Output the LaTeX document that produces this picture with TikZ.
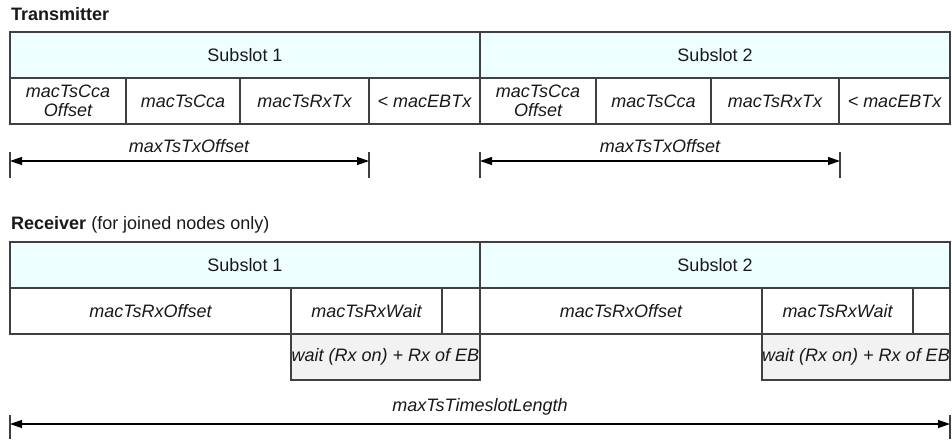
\documentclass[tikz,border=0pt]{standalone}
\usepackage{fontspec}
\setmainfont{Liberation Sans}
\usetikzlibrary{arrows.meta}

\definecolor{subslotfill}{HTML}{EEFFFF}
\definecolor{ebfill}{HTML}{F2F2F2}

\tikzset{
	cell/.style={draw=black!75, line width=1.2pt, minimum height=46pt, inner sep=0pt,
		align=center, text=black!90, font=\fontsize{18}{19}\selectfont\itshape},
	subslot/.style={cell, fill=subslotfill, font=\fontsize{18}{19}\selectfont},
	ebbox/.style={cell, fill=ebfill},
	title/.style={anchor=west, inner sep=0pt, text=black!90, font=\fontsize{18}{19}\selectfont},
	dimlabel/.style={inner sep=0pt, text=black!90, font=\fontsize{18}{19}\selectfont\itshape},
	dimarrow/.style={line width=1.2pt, {Triangle[length=12pt,width=8pt]}-{Triangle[length=12pt,width=8pt]}},
	endmark/.style={line width=1.2pt, draw=black!75},
}

\begin{document}
\begin{tikzpicture}[x=1pt,y=-1pt]
		\useasboundingbox (0,0) rectangle (952,439);

		%Transmitter
		\node [title] (txtitle) at (11,14) {\bfseries Transmitter};
		\node [subslot,minimum width=470pt] (txsub1) at (245,55) {Subslot 1};
		\node [subslot,minimum width=470pt] (txsub2) at (715,55) {Subslot 2};
		\node [cell,minimum width=116pt] (txcca1) at (68,101) {macTsCca\\Offset};
		\node [cell,minimum width=114pt] (txccb1) at (183,101) {macTsCca};
		\node [cell,minimum width=129pt] (txrxtx1) at (304.5,101) {macTsRxTx};
		\node [cell,minimum width=111pt] (txebtx1) at (424.5,101) {< macEBTx};
		\node [cell,minimum width=116pt] (txcca2) at (538,101) {macTsCca\\Offset};
		\node [cell,minimum width=115pt] (txccb2) at (653.5,101) {macTsCca};
		\node [cell,minimum width=128pt] (txrxtx2) at (775,101) {macTsRxTx};
		\node [cell,minimum width=111pt] (txebtx2) at (894.5,101) {< macEBTx};

		%Cotas Tx
		\node [dimlabel] (txoff1) at (189,146) {maxTsTxOffset};
		\node [dimlabel] (txoff2) at (660,146) {maxTsTxOffset};
		\coordinate (a1t) at (10,152);  \coordinate (a1b) at (10,178);  \coordinate (a1) at (10,161);
		\coordinate (b1t) at (369,152); \coordinate (b1b) at (369,178); \coordinate (b1) at (369,161);
		\coordinate (a2t) at (480,152); \coordinate (a2b) at (480,178); \coordinate (a2) at (480,161);
		\coordinate (b2t) at (840,152); \coordinate (b2b) at (840,178); \coordinate (b2) at (840,161);
		\draw[endmark] (a1t)--(a1b);
		\draw[endmark] (b1t)--(b1b);
		\draw[endmark] (a2t)--(a2b);
		\draw[endmark] (b2t)--(b2b);
		\draw[dimarrow] (a1)--(b1);
		\draw[dimarrow] (a2)--(b2);

		%Receiver
		\node [title] (rxtitle) at (11,225) {\bfseries Receiver\mdseries{} (for joined nodes only)};
		\node [subslot,minimum width=470pt] (rxsub1) at (245,265) {Subslot 1};
		\node [subslot,minimum width=470pt] (rxsub2) at (715,265) {Subslot 2};
		\node [cell,minimum width=281pt] (rxoff1) at (150.5,311) {macTsRxOffset};
		\node [cell,minimum width=151pt] (rxwait1) at (366.5,311) {macTsRxWait};
		\node [cell,minimum width=38pt] (rxrest1) at (461,311) {};
		\node [cell,minimum width=282pt] (rxoff2) at (621,311) {macTsRxOffset};
		\node [cell,minimum width=151pt] (rxwait2) at (837.5,311) {macTsRxWait};
		\node [cell,minimum width=37pt] (rxrest2) at (931.5,311) {};
		\node [ebbox,minimum width=189pt] (rxeb1) at (385.5,357) {wait (Rx on) + Rx of EB};
		\node [ebbox,minimum width=188pt] (rxeb2) at (856,357) {wait (Rx on) + Rx of EB};

		%Cota timeslot
		\node [dimlabel] (tslen) at (480,407) {maxTsTimeslotLength};
		\coordinate (c1t) at (10,415);  \coordinate (c1b) at (10,439);  \coordinate (c1) at (10,424);
		\coordinate (d1t) at (950,415); \coordinate (d1b) at (950,439); \coordinate (d1) at (950,424);
		\draw[endmark] (c1t)--(c1b);
		\draw[endmark] (d1t)--(d1b);
		\draw[dimarrow] (c1)--(d1);
\end{tikzpicture}
\end{document}
